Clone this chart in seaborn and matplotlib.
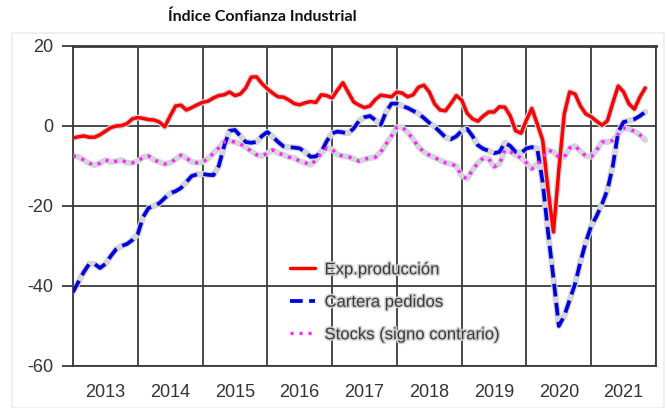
import numpy as np
import pandas as pd
import matplotlib
matplotlib.use("Agg")
import matplotlib.pyplot as plt
import matplotlib.patheffects as pe
import seaborn as sns

# Monthly series, January 2013 onwards
exp_produccion = [
    -3.0, -2.7, -2.5, -2.8, -2.8, -2.2, -1.3, -0.4, 0.0, 0.1, 0.6, 1.8,
    2.1, 1.9, 1.6, 1.5, 1.0, -0.2, 2.5, 5.0, 5.2, 4.0, 4.6, 5.3,
    5.9, 6.2, 7.0, 7.6, 7.8, 8.5, 7.6, 8.0, 9.5, 12.2, 12.3, 10.6,
    9.3, 8.2, 7.3, 7.2, 6.5, 5.6, 5.3, 5.8, 6.1, 5.9, 7.8, 7.6,
    7.0, 9.0, 10.8, 8.4, 6.0, 5.2, 4.6, 5.0, 6.6, 7.7, 7.5, 7.3,
    8.5, 8.2, 7.3, 7.8, 9.7, 10.2, 8.5, 5.5, 4.0, 3.8, 5.6, 7.6,
    6.5, 3.2, 1.8, 1.2, 2.5, 3.5, 3.5, 4.8, 4.7, 2.5, -1.2, -1.8,
    1.5, 4.4, 0.5, -3.5, -16.0, -26.5, -11.0, 3.0, 8.5, 8.0, 5.0, 3.0,
    2.3, 1.2, 0.2, 1.3, 5.8, 10.0, 8.5, 5.5, 4.2, 7.2, 9.5,
]
cartera_pedidos = [
    -41.5, -39.0, -36.5, -34.5, -34.5, -35.5, -34.5, -32.5, -30.8, -30.0, -29.5, -28.5,
    -27.0, -22.7, -20.5, -20.0, -19.3, -18.0, -16.8, -16.3, -15.5, -14.0, -12.5, -12.1,
    -12.0, -12.2, -12.3, -10.0, -5.0, -1.2, -1.0, -2.5, -4.0, -4.2, -4.0, -2.5,
    -1.5, -2.7, -4.0, -5.1, -5.3, -5.4, -5.6, -6.5, -7.7, -7.6, -6.5, -3.8,
    -1.8, -1.4, -1.6, -1.8, -0.6, 1.3, 2.2, 2.5, 1.5, 0.3, 3.5, 5.6,
    5.6, 5.0, 4.5, 3.8, 3.1, 2.0, 0.8, -0.2, -1.5, -2.8, -3.3, -2.6,
    -1.2, -0.7, -2.5, -4.8, -5.7, -6.2, -6.8, -6.5, -4.2, -5.0, -6.5, -6.8,
    -5.6, -5.3, -5.6, -14.0, -26.5, -38.0, -50.0, -47.5, -43.5, -39.5, -34.0, -29.0,
    -25.0, -22.5, -19.5, -16.0, -10.0, -1.5, 1.0, 1.3, 1.7, 2.5, 3.5,
]
stocks_signo_contrario = [
    -7.5, -7.7, -8.5, -9.3, -9.8, -9.3, -8.5, -9.0, -8.8, -8.5, -9.2, -9.2,
    -8.8, -7.8, -7.5, -8.5, -9.0, -9.5, -9.2, -8.3, -7.3, -8.0, -9.0, -9.2,
    -9.0, -8.2, -6.8, -5.5, -4.0, -3.8, -4.0, -4.5, -5.3, -6.3, -7.2, -7.5,
    -6.8, -6.0, -6.8, -7.2, -7.8, -8.0, -8.8, -9.2, -9.7, -8.5, -6.8, -5.5,
    -5.8, -7.2, -7.5, -7.7, -8.2, -8.8, -8.3, -8.0, -7.8, -6.5, -4.5, -2.5,
    -0.3, -0.3, -1.6, -3.3, -5.2, -6.5, -7.3, -7.9, -8.6, -9.2, -9.5, -10.0,
    -12.5, -13.2, -11.0, -9.3, -8.0, -8.2, -10.2, -9.5, -6.0, -6.4, -7.2, -8.0,
    -9.2, -10.7, -9.6, -8.0, -6.0, -6.5, -7.8, -7.8, -5.5, -5.0, -6.3, -7.5,
    -7.7, -6.0, -4.0, -4.0, -3.6, -2.0, -0.5, -0.8, -1.3, -2.2, -3.5,
]
series_labels = ["Exp.producción", "Cartera pedidos", "Stocks (signo contrario)"]
year_labels = ["2013", "2014", "2015", "2016", "2017", "2018", "2019", "2020", "2021"]
y_ticks = [-60, -40, -20, 0, 20]

n = len(exp_produccion)
fecha = 2013 + np.arange(n) / 12.0
df = pd.DataFrame({
    "fecha": fecha,
    series_labels[0]: exp_produccion,
    series_labels[1]: cartera_pedidos,
    series_labels[2]: stocks_signo_contrario,
})

sns.set_style("white")
plt.rcParams["font.family"] = ["Liberation Sans", "DejaVu Sans"]
plt.rcParams["axes.unicode_minus"] = False

fig = plt.figure(figsize=(6.66, 4.08), dpi=100)
ax = fig.add_axes([73 / 666, 1 - 366 / 408, (656 - 73) / 666, (366 - 46) / 408])

# faint outer frame of the chart area
fig.patches.append(plt.Rectangle((12 / 666, 0.0), 652 / 666, 1 - 33 / 408,
                                 transform=fig.transFigure, fill=False,
                                 edgecolor="#ececec", linewidth=1.2))

styles = [
    dict(color="#ff0000", lw=2.5, ls="-"),
    dict(color="#0000dd", lw=2.7, ls=(0, (3.4, 1.7))),
    dict(color="#ff22ff", lw=2.4, ls=(0, (0.9, 1.8))),
]
halo = "#d4d4dc"
for name, st in zip(series_labels, styles):
    sns.lineplot(data=df, x="fecha", y=name, ax=ax, color=halo,
                 lw=st["lw"] + 1.8, solid_capstyle="round", legend=False, zorder=2)
    sns.lineplot(data=df, x="fecha", y=name, ax=ax, color=st["color"],
                 lw=st["lw"], linestyle=st["ls"], label=name, zorder=3)

ax.set_xlim(2013, 2022)
ax.set_ylim(-60, 20)
ax.set_xlabel("")
ax.set_ylabel("")

ax.set_yticks(y_ticks)
ax.set_yticklabels([str(v) for v in y_ticks])
ax.set_xticks(np.arange(2013, 2023))
ax.set_xticklabels([])
ax.set_xticks(np.arange(2013, 2022) + 0.5, minor=True)
ax.set_xticklabels(year_labels, minor=True)

ax.tick_params(axis="y", which="major", length=8, width=1.3, color="#3a3a3a",
               labelsize=13, labelcolor="#333333", pad=6, left=True)
ax.tick_params(axis="x", which="both", length=0, labelsize=13,
               labelcolor="#333333", pad=13)

ax.grid(True, which="major", color="#3a3a3a", linewidth=1.3)
for side, sp in ax.spines.items():
    sp.set_visible(True)
    sp.set_color("#3a3a3a")
    sp.set_linewidth(1.3)
ax.spines["top"].set_linewidth(2.0)
ax.set_axisbelow(True)

leg = ax.legend(loc="upper left", bbox_to_anchor=(0.36, 0.345), frameon=False,
                fontsize=12, handlelength=1.5, handletextpad=0.6,
                labelspacing=1.05, borderaxespad=0)
for txt in leg.get_texts():
    txt.set_color("#3a3a3a")
    txt.set_path_effects([pe.withStroke(linewidth=2.2, foreground="#d2d2d2")])

fig.text(262 / 666, 1 - 17 / 408, "Índice Confianza Industrial",
         ha="center", va="center", fontsize=11.5, fontweight="bold",
         family=["Lato", "DejaVu Sans"], color="#111111")

fig.savefig("out.png", dpi=100)
